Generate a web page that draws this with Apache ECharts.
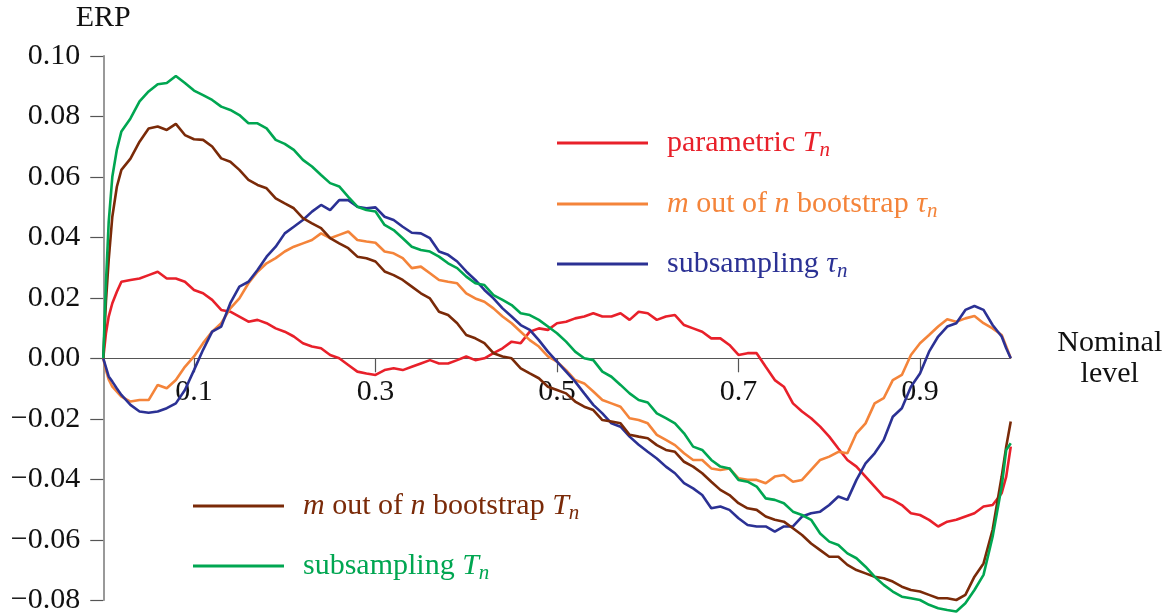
<!DOCTYPE html>
<html>
<head>
<meta charset="utf-8">
<title>ERP against nominal level</title>
<script src="https://cdn.jsdelivr.net/npm/echarts@6/dist/echarts.min.js"></script>
<style>
  html, body { margin: 0; padding: 0; background: #ffffff; }
  #chart { width: 1172px; height: 616px; }
</style>
</head>
<body>
<div id="chart"></div>
<script>
// Nominal level grid shared by every curve
const level = [
  0, 0.003, 0.006, 0.01, 0.015,
  0.02, 0.03, 0.04, 0.05, 0.06, 0.07, 0.08, 0.09, 0.10,
  0.11, 0.12, 0.13, 0.14, 0.15, 0.16, 0.17, 0.18, 0.19, 0.20,
  0.21, 0.22, 0.23, 0.24, 0.25, 0.26, 0.27, 0.28, 0.29, 0.30,
  0.31, 0.32, 0.33, 0.34, 0.35, 0.36, 0.37, 0.38, 0.39, 0.40,
  0.41, 0.42, 0.43, 0.44, 0.45, 0.46, 0.47, 0.48, 0.49, 0.50,
  0.51, 0.52, 0.53, 0.54, 0.55, 0.56, 0.57, 0.58, 0.59, 0.60,
  0.61, 0.62, 0.63, 0.64, 0.65, 0.66, 0.67, 0.68, 0.69, 0.70,
  0.71, 0.72, 0.73, 0.74, 0.75, 0.76, 0.77, 0.78, 0.79, 0.80,
  0.81, 0.82, 0.83, 0.84, 0.85, 0.86, 0.87, 0.88, 0.89, 0.90,
  0.91, 0.92, 0.93, 0.94, 0.95, 0.96, 0.97, 0.98, 0.99,
  0.995, 1
];

// Error in rejection probability for each procedure
const parametricT = [
  0, 0.0083, 0.0138, 0.0182, 0.022,
  0.0253, 0.0259, 0.0264, 0.0275, 0.0286, 0.0264, 0.0264, 0.0253, 0.0226,
  0.0215, 0.0193, 0.016, 0.0154, 0.0138, 0.0121, 0.0127, 0.0116, 0.0099, 0.0088,
  0.0072, 0.005, 0.0039, 0.0033, 0.0011, 0.0, -0.0022, -0.0044, -0.005, -0.0055,
  -0.0039, -0.0033, -0.0039, -0.0028, -0.0017, -0.0006, -0.0017, -0.0017, -0.0006, 0.0006,
  -0.0006, 0.0, 0.0017, 0.0033, 0.0055, 0.005, 0.0088, 0.0099, 0.0094, 0.0116,
  0.0121, 0.0132, 0.0138, 0.0149, 0.0138, 0.0138, 0.0149, 0.0127, 0.0154, 0.0149,
  0.0127, 0.0138, 0.0143, 0.011, 0.0099, 0.0088, 0.0066, 0.0066, 0.0044, 0.0011,
  0.0017, 0.0017, -0.0028, -0.0072, -0.0094, -0.0149, -0.0176, -0.0198, -0.0226, -0.0259,
  -0.0298, -0.0336, -0.0358, -0.0391, -0.0424, -0.0457, -0.0468, -0.0485, -0.0512, -0.0518,
  -0.0534, -0.0556, -0.054, -0.0534, -0.0523, -0.0512, -0.049, -0.0485, -0.0446,
  -0.0391, -0.0292
];

const mnBootTau = [
  0, -0.004, -0.007, -0.0094, -0.011,
  -0.0127, -0.0143, -0.0138, -0.0138, -0.0088, -0.0099, -0.0072, -0.0028, 0.0006,
  0.005, 0.0088, 0.0116, 0.0165, 0.0198, 0.0248, 0.0286, 0.0314, 0.0331, 0.0353,
  0.0369, 0.038, 0.0391, 0.0413, 0.0397, 0.0408, 0.0419, 0.0391, 0.0386, 0.0382,
  0.0353, 0.0347, 0.0331, 0.0298, 0.0303, 0.0281, 0.0259, 0.0253, 0.0248, 0.0215,
  0.0198, 0.0187, 0.0165, 0.0138, 0.0116, 0.0088, 0.006, 0.0039, 0.0006, -0.0011,
  -0.0039, -0.0072, -0.0083, -0.011, -0.0138, -0.0149, -0.016, -0.0198, -0.0204, -0.0215,
  -0.0253, -0.027, -0.0287, -0.0314, -0.0336, -0.0336, -0.0364, -0.0369, -0.0364, -0.0397,
  -0.0402, -0.0402, -0.0413, -0.0391, -0.0386, -0.0408, -0.0402, -0.0369, -0.0336, -0.0325,
  -0.0309, -0.0314, -0.0248, -0.0215, -0.0149, -0.0132, -0.0072, -0.0055, 0.0011, 0.005,
  0.0077, 0.0105, 0.0129, 0.0121, 0.0132, 0.014, 0.0116, 0.0099, 0.0077,
  0.0039, 0
];

const subTau = [
  0, -0.003, -0.006, -0.0077, -0.010,
  -0.0121, -0.0154, -0.0176, -0.018, -0.0176, -0.0165, -0.0149, -0.0105, -0.0039,
  0.0028, 0.0088, 0.0105, 0.0182, 0.0237, 0.0253, 0.0292, 0.0336, 0.0369, 0.0413,
  0.0435, 0.0457, 0.0485, 0.0507, 0.049, 0.0523, 0.0523, 0.0501, 0.0496, 0.0499,
  0.0468, 0.0457, 0.0435, 0.0415, 0.0413, 0.0397, 0.0353, 0.0342, 0.032, 0.0287,
  0.0259, 0.0226, 0.0198, 0.0165, 0.0138, 0.011, 0.0094, 0.006, 0.0022, -0.0011,
  -0.0044, -0.0077, -0.0116, -0.0154, -0.0182, -0.0215, -0.0226, -0.0259, -0.0286, -0.0309,
  -0.0331, -0.0358, -0.038, -0.0413, -0.043, -0.0452, -0.0496, -0.049, -0.0501, -0.0529,
  -0.0551, -0.0556, -0.0556, -0.0573, -0.0556, -0.0556, -0.0523, -0.0512, -0.0507, -0.0485,
  -0.0457, -0.0468, -0.0402, -0.0347, -0.0314, -0.027, -0.0193, -0.0165, -0.0094, -0.005,
  0.0022, 0.0072, 0.0105, 0.0116, 0.016, 0.0173, 0.016, 0.011, 0.0072,
  0.0033, 0
];

const mnBootT = [
  0, 0.019, 0.0325, 0.0468, 0.0567,
  0.0623, 0.066, 0.0716, 0.076, 0.0766, 0.0755, 0.0775, 0.0738, 0.0724,
  0.0722, 0.07, 0.0661, 0.065, 0.0623, 0.059, 0.0573, 0.0562, 0.0529, 0.0512,
  0.0496, 0.0463, 0.0446, 0.043, 0.0397, 0.038, 0.0364, 0.0336, 0.0331, 0.032,
  0.0287, 0.0275, 0.0259, 0.0237, 0.0215, 0.0198, 0.0154, 0.0143, 0.0116, 0.0077,
  0.0066, 0.005, 0.0017, 0.0006, 0.0, -0.0033, -0.005, -0.0066, -0.0094, -0.0105,
  -0.0116, -0.0143, -0.016, -0.0171, -0.0204, -0.0209, -0.0215, -0.0253, -0.0259, -0.0264,
  -0.0287, -0.0303, -0.0309, -0.0342, -0.0358, -0.038, -0.0408, -0.0435, -0.0452, -0.0479,
  -0.0496, -0.0501, -0.0523, -0.0534, -0.054, -0.0562, -0.0584, -0.0612, -0.0634, -0.0656,
  -0.0656, -0.0683, -0.07, -0.0711, -0.0722, -0.0727, -0.0738, -0.0755, -0.0766, -0.0771,
  -0.0782, -0.0793, -0.0793, -0.0799, -0.0782, -0.0722, -0.0678, -0.0567, -0.0391,
  -0.0292, -0.0209
];

const subT = [
  0, 0.025, 0.045, 0.060, 0.069,
  0.075, 0.0793, 0.0849, 0.0882, 0.0906, 0.091, 0.0933, 0.091, 0.0885,
  0.087, 0.0854, 0.0832, 0.0821, 0.0804, 0.0777, 0.0777, 0.076, 0.0722, 0.0709,
  0.0689, 0.0656, 0.0634, 0.0606, 0.0579, 0.0568, 0.0534, 0.0501, 0.049, 0.0485,
  0.0441, 0.0424, 0.0397, 0.0369, 0.0358, 0.0353, 0.0336, 0.0314, 0.0298, 0.027,
  0.0248, 0.0242, 0.0209, 0.0193, 0.0176, 0.0149, 0.0143, 0.0127, 0.0105, 0.0083,
  0.0055, 0.0022, 0.0, -0.0006, -0.0044, -0.0061, -0.0088, -0.0116, -0.0138, -0.0146,
  -0.0182, -0.0198, -0.0215, -0.0248, -0.0292, -0.0303, -0.0336, -0.0358, -0.0364, -0.0402,
  -0.0408, -0.0424, -0.0463, -0.0468, -0.0479, -0.0507, -0.0518, -0.0534, -0.0579, -0.0606,
  -0.0617, -0.0645, -0.0661, -0.0689, -0.0722, -0.0749, -0.0771, -0.0788, -0.0793, -0.0799,
  -0.0815, -0.0826, -0.0832, -0.0837, -0.081, -0.0766, -0.0716, -0.059, -0.0424,
  -0.0303, -0.0281
];

// Axis ticks
const xTicks = [0.1, 0.3, 0.5, 0.7, 0.9];
const yTicks = [-0.08, -0.06, -0.04, -0.02, 0.00, 0.02, 0.04, 0.06, 0.08, 0.10];
const yMin = -0.08;
const yMax = 0.10;

// Series names and their typeset legend labels
const names = [
  'parametric Tn',
  'm out of n bootstrap τn',
  'subsampling τn',
  'm out of n bootstrap Tn',
  'subsampling Tn'
];
const legendMarkup = {
  'parametric Tn': '{t|parametric }{i|T}{s|n}',
  'm out of n bootstrap τn': '{i|m}{t| out of }{i|n}{t| bootstrap }{i|τ}{s|n}',
  'subsampling τn': '{t|subsampling }{i|τ}{s|n}',
  'm out of n bootstrap Tn': '{i|m}{t| out of }{i|n}{t| bootstrap }{i|T}{s|n}',
  'subsampling Tn': '{t|subsampling }{i|T}{s|n}'
};
const values = [parametricT, mnBootTau, subTau, mnBootT, subT];
const colors = ['#e8202a', '#f4843a', '#2b3194', '#7a2a08', '#00a651'];

const FONT = '"Liberation Serif", "DejaVu Serif", serif';
const FS = 30;

const rich = {
  t: { fontFamily: FONT, fontSize: FS, lineHeight: 36, verticalAlign: 'middle' },
  i: { fontFamily: FONT, fontSize: FS, fontStyle: 'italic', lineHeight: 36, verticalAlign: 'middle' },
  s: { fontFamily: FONT, fontSize: 21, fontStyle: 'italic', lineHeight: 20, verticalAlign: 'bottom' }
};

// Legend placement: [left, vertical centre]
const legendPos = [[557, 146], [557, 207], [557, 267], [193, 509], [193, 569]];

// Plot box
const W = 1172, H = 616;
const gridBox = { left: 103.25, right: 161.25, top: 55.8, bottom: 15.7 };
const plotH = H - gridBox.top - gridBox.bottom;
// Lift the horizontal axis from the bottom edge up to ERP = 0
const zeroOffset = -plotH * (0 - yMin) / (yMax - yMin);

const chart = echarts.init(document.getElementById('chart'), null, { renderer: 'canvas' });

const option = {
  animation: false,
  backgroundColor: '#ffffff',
  grid: Object.assign({ outerBoundsMode: 'none' }, gridBox),
  xAxis: {
    type: 'value',
    min: 0,
    max: 1,
    position: 'bottom',
    offset: zeroOffset,
    name: 'Nominal\nlevel',
    nameLocation: 'end',
    nameGap: 99,
    nameMoveOverlap: false,
    nameTextStyle: {
      fontFamily: FONT, fontSize: FS, color: '#111', align: 'center',
      verticalAlign: 'middle', lineHeight: 31, padding: [14, 0, 0, 0]
    },
    axisLine: { onZero: false, lineStyle: { color: '#555', width: 1.2 } },
    axisTick: { show: true, length: 14, customValues: xTicks, lineStyle: { color: '#555', width: 1.2 } },
    axisLabel: {
      customValues: xTicks,
      formatter: v => v.toFixed(1),
      fontFamily: FONT, fontSize: FS, color: '#111', margin: 19
    },
    splitLine: { show: false }
  },
  yAxis: {
    type: 'value',
    min: yMin,
    max: yMax,
    interval: 0.02,
    name: 'ERP',
    nameLocation: 'end',
    nameGap: 38,
    nameTextStyle: { fontFamily: FONT, fontSize: FS, color: '#111', align: 'center', verticalAlign: 'middle' },
    axisLine: { onZero: false, lineStyle: { color: '#777', width: 1.5 } },
    axisTick: { show: true, length: 13, customValues: yTicks, lineStyle: { color: '#555', width: 1.2 } },
    axisLabel: {
      customValues: yTicks,
      formatter: v => (v < -1e-9 ? '\u2212' : '') + Math.abs(v).toFixed(2),
      fontFamily: FONT, fontSize: FS, color: '#111', margin: 23
    },
    splitLine: { show: false }
  },
  legend: names.map((n, k) => ({
    data: [n],
    left: legendPos[k][0],
    top: legendPos[k][1] - 18,
    padding: 0,
    icon: 'rect',
    itemWidth: 91,
    itemHeight: 3,
    selectedMode: false,
    formatter: name => legendMarkup[name],
    textStyle: { color: colors[k], fontFamily: FONT, fontSize: FS, padding: [0, 0, 0, 14], rich: rich }
  })),
  series: names.map((n, k) => ({
    name: n,
    type: 'line',
    data: level.map((x, j) => [x, values[k][j]]),
    showSymbol: false,
    symbol: 'none',
    clip: false,
    color: colors[k],
    lineStyle: { color: colors[k], width: 2.6 },
    z: 2 + k
  }))
};

chart.setOption(option);
</script>
</body>
</html>
